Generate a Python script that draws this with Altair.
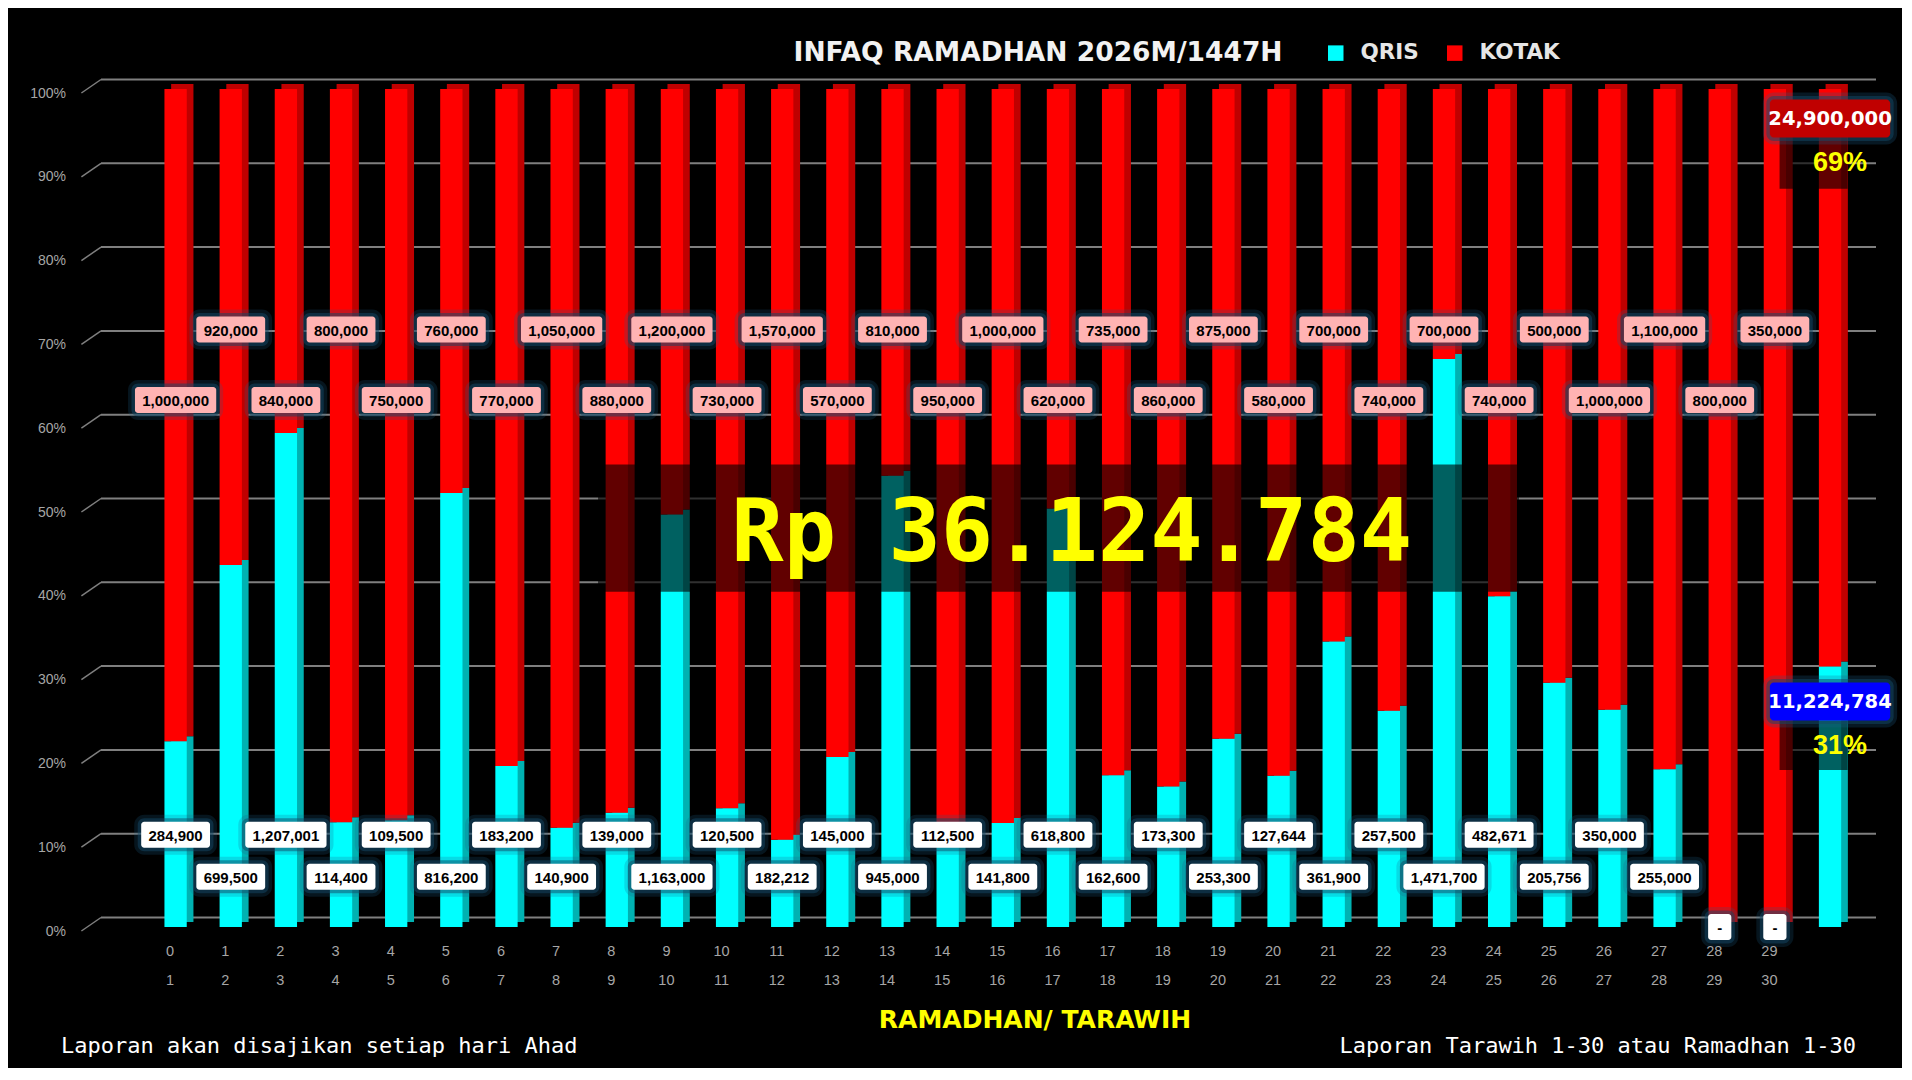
import altair as alt
import pandas as pd

# ---------------- data ----------------
days = list(range(1, 31))
qris = [284900, 699500, 1207001, 114400, 109500, 816200, 183200, 140900, 139000, 1163000,
        120500, 182212, 145000, 945000, 112500, 141800, 618800, 162600, 173300, 253300,
        127644, 361900, 257500, 1471700, 482671, 205756, 350000, 255000, 0, 0]
kotak = [1000000, 920000, 840000, 800000, 750000, 760000, 770000, 1050000, 880000, 1200000,
         730000, 1570000, 570000, 810000, 950000, 1000000, 620000, 735000, 860000, 875000,
         580000, 700000, 740000, 700000, 740000, 500000, 1000000, 1100000, 800000, 350000]
series_names = ["QRIS", "KOTAK"]
title_text = "INFAQ RAMADHAN 2026M/1447H"
x_title = "RAMADHAN/ TARAWIH"
footer_left = "Laporan akan disajikan setiap hari Ahad"
footer_right = "Laporan Tarawih 1-30 atau Ramadhan 1-30"
grid_values = [0, 0.1, 0.2, 0.3, 0.4, 0.5, 0.6, 0.7, 0.8, 0.9, 1.0]

total_qris = sum(qris)
total_kotak = sum(kotak)
grand = total_qris + total_kotak
total_idx = len(days) + 1

# ---------------- tables ----------------
bar_rows = []
for d, q, k in zip(days, qris, kotak):
    bar_rows.append({"idx": d, "series": "QRIS", "value": q, "ord": 0})
    bar_rows.append({"idx": d, "series": "KOTAK", "value": k, "ord": 1})
bar_rows.append({"idx": total_idx, "series": "QRIS", "value": total_qris, "ord": 0})
bar_rows.append({"idx": total_idx, "series": "KOTAK", "value": total_kotak, "ord": 1})
bars_df = pd.DataFrame(bar_rows)

lab_rows = []
for d, q, k in zip(days, qris, kotak):
    odd = d % 2 == 1
    lab_rows.append({"idx": d, "series": "QRIS", "label": f"{q:,}" if q else "-",
                     "level": (0.110 if odd else 0.060) if q else 0.0})
    lab_rows.append({"idx": d, "series": "KOTAK", "label": f"{k:,}" if k else "-",
                     "level": 0.629 if odd else 0.713})
labels_df = pd.DataFrame(lab_rows)

grid_df = pd.DataFrame({"g": grid_values})
tick_df = pd.DataFrame({"idx": days, "top": [str(d - 1) for d in days], "bottom": [str(d) for d in days]})

STEP = 55.46  # pixels per x unit
XSCALE = alt.Scale(domain=[-0.262, 31.743], nice=False, zero=False)
YSCALE = alt.Scale(domain=[0, 1], nice=False, zero=False)
GRID_COLOR = "#7f7f7f"
LABEL_GRAY = "#a6a6a6"


def X(field):
    return alt.X(field, type="quantitative", scale=XSCALE, axis=None, title=None)


def Y(field):
    return alt.Y(field, type="quantitative", scale=YSCALE, axis=None, title=None)


# gridlines (back wall) and diagonal floor ticks
grid = alt.Chart(grid_df).mark_rule(color=GRID_COLOR, strokeWidth=2, yOffset=-9.5).encode(y=Y("g"))
diag = alt.Chart(grid_df).mark_rule(color=GRID_COLOR, strokeWidth=1.5, yOffset=-9.5, y2Offset=4).encode(
    x=alt.value(0), x2=alt.value(-19.6), y=Y("g"), y2=alt.Y2("g"))
ylabels = alt.Chart(grid_df).mark_text(align="right", baseline="middle", dy=4.5, font="Liberation Sans",
                                       fontSize=14, color=LABEL_GRAY).encode(
    x=alt.value(-35), y=Y("g"), text=alt.Text("g:Q", format=".0%"))

# 3D side faces
side = alt.Chart(bars_df).mark_bar(size=22.3, xOffset=6.7, yOffset=-5, y2Offset=-5).encode(
    x=X("idx"),
    y=alt.Y("value:Q", stack="normalize", scale=YSCALE, axis=None, title=None),
    order=alt.Order("ord:Q"),
    color=alt.condition(alt.datum.series == "QRIS", alt.value("#00b2b2"), alt.value("#bf0000")),
)
# front faces
front = alt.Chart(bars_df).mark_bar(size=22.3).encode(
    x=X("idx"),
    y=alt.Y("value:Q", stack="normalize", scale=YSCALE, axis=None, title=None),
    order=alt.Order("ord:Q"),
    color=alt.Color("series:N",
                    scale=alt.Scale(domain=series_names, range=["#00ffff", "#ff0000"]),
                    legend=alt.Legend(orient="none", legendX=1224, legendY=-47, direction="horizontal",
                                      title=None, symbolType="square", symbolSize=240, symbolStrokeWidth=0,
                                      labelFontSize=21.5, labelFont="DejaVu Sans", labelFontWeight="bold",
                                      labelColor="#e6e6e6", labelOffset=14, columnPadding=25)),
)

# big total overlay
dark_box = alt.Chart(pd.DataFrame({"a": [8.66], "b": [25.36], "y1": [0.40], "y2": [0.552]})).mark_rect(
    color="black", opacity=0.62).encode(x=X("a"), x2="b", y=Y("y1"), y2="y2")
big_text = alt.Chart(pd.DataFrame({"x": [17.25], "y": [0.4366],
                                   "t": ["Rp " + f"{grand:,}".replace(",", ".")]})).mark_text(
    font="DejaVu Sans Mono", fontWeight="bold", fontSize=87, color="#ffff00", align="center",
    baseline="alphabetic").encode(x=X("x"), y=Y("y"), text="t:N")

# value label boxes
char_w = "(8.34*(length(datum.label) - (length(split(datum.label, ',')) - 1)) + 4.17*(length(split(datum.label, ',')) - 1) + 15)"
lab_base = alt.Chart(labels_df).transform_calculate(w=char_w)


def box_layer(pad, color, opacity, half_h=13, radius=3, data=lab_base):
    return data.transform_calculate(
        x1=f"datum.idx - (datum.w/2 + {pad})/{STEP}",
        x2=f"datum.idx + (datum.w/2 + {pad})/{STEP}",
    ).mark_rect(yOffset=-(half_h + pad), y2Offset=half_h + pad, cornerRadius=radius + pad,
                opacity=opacity).encode(
        x=X("x1"), x2="x2", y=Y("level"), y2=alt.Y2("level"),
        color=color)


glow1 = box_layer(7, alt.value("#1d5f8a"), 0.22)
glow2 = box_layer(3.5, alt.value("#134766"), 0.5)
boxes = box_layer(0, alt.condition(alt.datum.series == "QRIS", alt.value("#ffffff"), alt.value("#ffb3b3")), 1)
box_text = lab_base.mark_text(font="Liberation Sans", fontWeight="bold", fontSize=15, color="black",
                              baseline="middle", dy=1).encode(x=X("idx"), y=Y("level"), text="label:N")

# totals annotation
tot_df = pd.DataFrame({
    "idx": [total_idx, total_idx],
    "series": ["KOTAK", "QRIS"],
    "label": [f"{total_kotak:,}", f"{total_qris:,}"],
    "pct": [f"{round(100 * total_kotak / grand)}%", f"{round(100 * total_qris / grand)}%"],
    "level": [0.9648, 0.2692],
    "plevel": [0.9134, 0.2172],
    "d1": [0.8811, 0.1874],
    "d2": [0.9427, 0.2462],
})
tot_base = alt.Chart(tot_df)
tot_dark = tot_base.transform_calculate(a=f"datum.idx - 1 + 0.085", b=f"datum.idx + 0.32").mark_rect(
    color="black", opacity=0.62).encode(x=X("a"), x2="b", y=Y("d1"), y2="d2")
tot_w = tot_base.transform_calculate(w="121")
tot_glow1 = box_layer(7, alt.value("#1d5f8a"), 0.25, half_h=19, radius=4, data=tot_w)
tot_glow2 = box_layer(3.5, alt.value("#134766"), 0.5, half_h=19, radius=4, data=tot_w)
tot_box = box_layer(0, alt.condition(alt.datum.series == "QRIS", alt.value("#0000ff"), alt.value("#c00000")),
                    1, half_h=19, radius=4, data=tot_w)
tot_text = tot_base.mark_text(font="DejaVu Sans", fontWeight="bold", fontSize=19.5, color="white",
                              baseline="middle", dy=1).encode(x=X("idx"), y=Y("level"), text="label:N")
tot_pct = tot_base.mark_text(font="Liberation Sans", fontWeight="bold", fontSize=27, color="#ffff00",
                             baseline="middle", dx=10, dy=1).encode(x=X("idx"), y=Y("plevel"), text="pct:N")

# x tick labels (two rows)
tick_top = alt.Chart(tick_df).mark_text(font="Liberation Sans", fontSize=14.5, color=LABEL_GRAY,
                                        baseline="middle", dx=-5.5).encode(
    x=X("idx"), y=alt.value(863), text="top:N")
tick_bot = alt.Chart(tick_df).mark_text(font="Liberation Sans", fontSize=14.5, color=LABEL_GRAY,
                                        baseline="middle", dx=-5.5).encode(
    x=X("idx"), y=alt.value(892), text="bottom:N")

# titles and footers
title = alt.Chart(pd.DataFrame({"t": [title_text]})).mark_text(
    font="DejaVu Sans", fontWeight="bold", fontSize=26.5, color="#f2f2f2", baseline="middle").encode(
    x=alt.value(937), y=alt.value(-36), text="t:N")
xtitle = alt.Chart(pd.DataFrame({"t": [x_title]})).mark_text(
    font="DejaVu Sans", fontWeight="bold", fontSize=25, color="#ffff00", baseline="middle").encode(
    x=alt.value(934), y=alt.value(931), text="t:N")
foot_l = alt.Chart(pd.DataFrame({"t": [footer_left]})).mark_text(
    font="DejaVu Sans Mono", fontSize=22, color="white", align="left", baseline="middle").encode(
    x=alt.value(-40), y=alt.value(957), text="t:N")
foot_r = alt.Chart(pd.DataFrame({"t": [footer_right]})).mark_text(
    font="DejaVu Sans Mono", fontSize=22, color="white", align="right", baseline="middle").encode(
    x=alt.value(1755), y=alt.value(957), text="t:N")

chart = alt.layer(
    grid, diag, ylabels, side, front, dark_box, big_text,
    glow1, glow2, boxes, box_text,
    tot_dark, tot_glow1, tot_glow2, tot_box, tot_text, tot_pct,
    tick_top, tick_bot, title, xtitle, foot_l, foot_r,
).properties(
    width=1775, height=838,
    autosize=alt.AutoSizeParams(type="none"),
    padding={"left": 93, "top": 81, "right": 26, "bottom": 141},
    background="black",
).configure_view(stroke=None)

chart.save("out.html", embed_options={"renderer": "svg", "actions": False})
